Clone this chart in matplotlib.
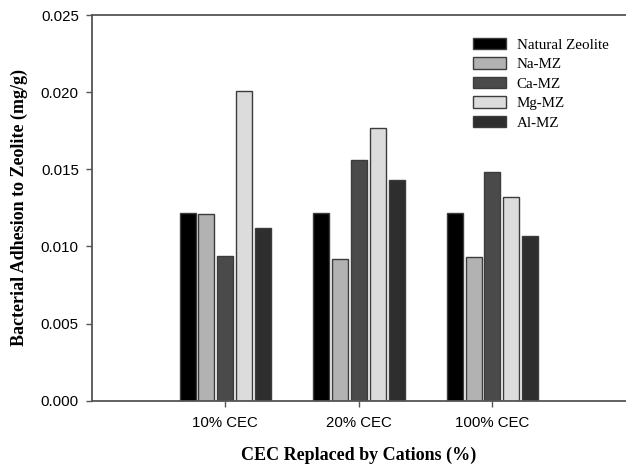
import numpy as np
import matplotlib
matplotlib.use("Agg")
import matplotlib.pyplot as plt

# adhesion (mg/g) per cation treatment level
groups = ["10% CEC", "20% CEC", "100% CEC"]
natural = [0.0122, 0.0122, 0.0122]
na_mz = [0.0121, 0.0092, 0.0093]
ca_mz = [0.0094, 0.0156, 0.0148]
mg_mz = [0.0201, 0.0177, 0.0132]
al_mz = [0.0112, 0.0143, 0.0107]

series = [
    ("Natural Zeolite", natural, "#000000"),
    ("Na-MZ", na_mz, "#b2b2b2"),
    ("Ca-MZ", ca_mz, "#4a4a4a"),
    ("Mg-MZ", mg_mz, "#dcdcdc"),
    ("Al-MZ", al_mz, "#2e2e2e"),
]

fig = plt.figure(figsize=(6.26, 4.72), dpi=100)
ax = fig.add_axes([0.1465, 0.151, 0.8535, 0.817])

x = np.arange(1, len(groups) + 1)
pitch = 0.141
width = 0.12
for i, (name, vals, col) in enumerate(series):
    ax.bar(x + (i - 2) * pitch, vals, width, color=col, edgecolor="#3c3c3c",
           linewidth=1.0, label=name)

ax.set_xlim(0, 4)
ax.set_ylim(0, 0.025)
yt = np.arange(0, 0.0251, 0.005)
ax.set_xticks(x)
ax.set_xticklabels(groups, family="Liberation Sans", fontsize=10.8)
ax.set_yticks(yt)
ax.set_yticklabels([f"{v:.3f}" for v in yt], family="Liberation Sans", fontsize=10.8)
ax.tick_params(direction="out", length=4.3, width=1, color="#555555", pad=5)
ax.tick_params(axis="x", pad=7)

for s in ["left", "bottom", "top"]:
    ax.spines[s].set_color("#555555")
    ax.spines[s].set_linewidth(1.3)
ax.spines["right"].set_visible(False)

ax.set_xlabel("CEC Replaced by Cations (%)", family="Liberation Serif",
              fontweight="bold", fontsize=13, labelpad=11.5)
ax.set_ylabel("Bacterial Adhesion to Zeolite (mg/g)", family="Liberation Serif",
              fontweight="bold", fontsize=13, labelpad=9)

ax.legend(loc="upper left", bbox_to_anchor=(0.702, 0.957), frameon=False,
          prop={"family": "Liberation Serif", "size": 10.8},
          handlelength=2.2, handleheight=0.78, handletextpad=0.73,
          labelspacing=0.38, borderaxespad=0)

fig.savefig("out.png", dpi=100)
